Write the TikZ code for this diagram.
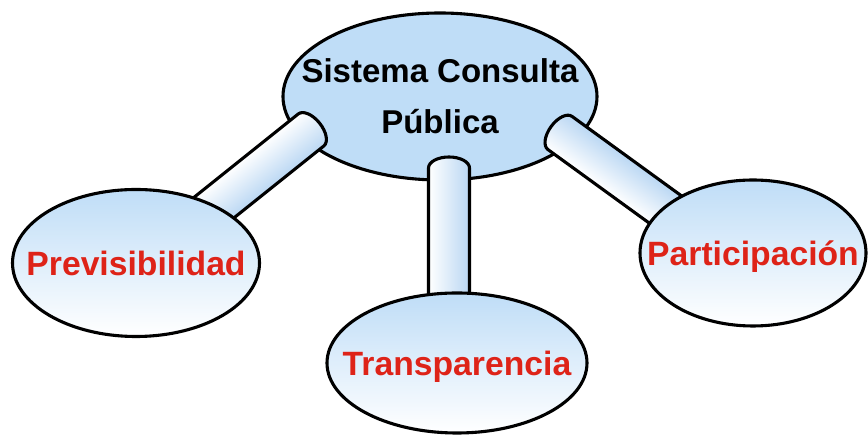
\documentclass[tikz,border=0pt]{standalone}
\usepackage{fontspec}
\setmainfont{Liberation Sans}
\usepackage{xcolor}
\usepackage{tikz}
\usetikzlibrary{shapes.geometric,calc}
\definecolor{cB}{HTML}{BFDDF7}
\definecolor{cT}{HTML}{BAD7F3}
\definecolor{cR}{HTML}{DE2318}
\tikzset{outl/.style={line width=3.1pt,line join=round},
  hub/.style={ellipse,draw,outl,fill=cB,inner sep=0pt},
  leaf/.style={ellipse,draw,outl,top color=cB,bottom color=white,inner sep=0pt},
  redtxt/.style={font=\fontsize{33.7}{40}\selectfont\bfseries,text=cR,text depth=0pt}}
\newcommand{\tubew}{20.5pt}
\newcommand{\tube}[2]{%
  \pgfmathanglebetweenpoints{\pgfpointanchor{#1}{center}}{\pgfpointanchor{#2}{center}}%
  \let\tubeang\pgfmathresult
  \pgfpointdiff{\pgfpointanchor{#1}{center}}{\pgfpointanchor{#2}{center}}%
  \pgfgetlastxy{\tubedx}{\tubedy}%
  \pgfmathveclen{\tubedx}{\tubedy}%
  \let\tubelen\pgfmathresult
  \begin{scope}[transform canvas={shift={(#1)},rotate=\tubeang}]
    \draw[outl,top color=cT,bottom color=white]
      (0pt,\tubew) -- (\tubelen pt,\tubew) -- (\tubelen pt,-\tubew) -- (0pt,-\tubew)
      arc[start angle=-90,end angle=-270,x radius=11pt,y radius=\tubew] -- cycle;
  \end{scope}}

\begin{document}
\begin{tikzpicture}[x=1pt,y=1pt]
  \useasboundingbox (0,0) rectangle (868,435);
  % central ellipse
  \node[hub,minimum width=314pt,minimum height=167pt,
    label={[font=\fontsize{33}{51}\selectfont\bfseries,align=center]center:Sistema Consulta\\Pública}]
    (sc) at (440,338.5) {};
  % tubes, cap end first
  \coordinate (prevA) at (311,305);   \coordinate (prevB) at (171,193);
  \coordinate (transA) at (449,267);  \coordinate (transB) at (449,105);
  \coordinate (partA) at (560,302);   \coordinate (partB) at (706,196);
  \tube{prevA}{prevB}
  \tube{transA}{transB}
  \tube{partA}{partB}
  % the three goals
  \node[leaf,minimum width=247pt,minimum height=147pt,label={[redtxt]center:Previsibilidad}] (prev) at (136,172) {};
  \node[leaf,minimum width=260pt,minimum height=140pt,label={[redtxt]center:Transparencia}] (trans) at (457,72) {};
  \node[leaf,minimum width=226pt,minimum height=146pt,label={[redtxt]center:Participación}] (part) at (753,182) {};
\end{tikzpicture}
\end{document}
